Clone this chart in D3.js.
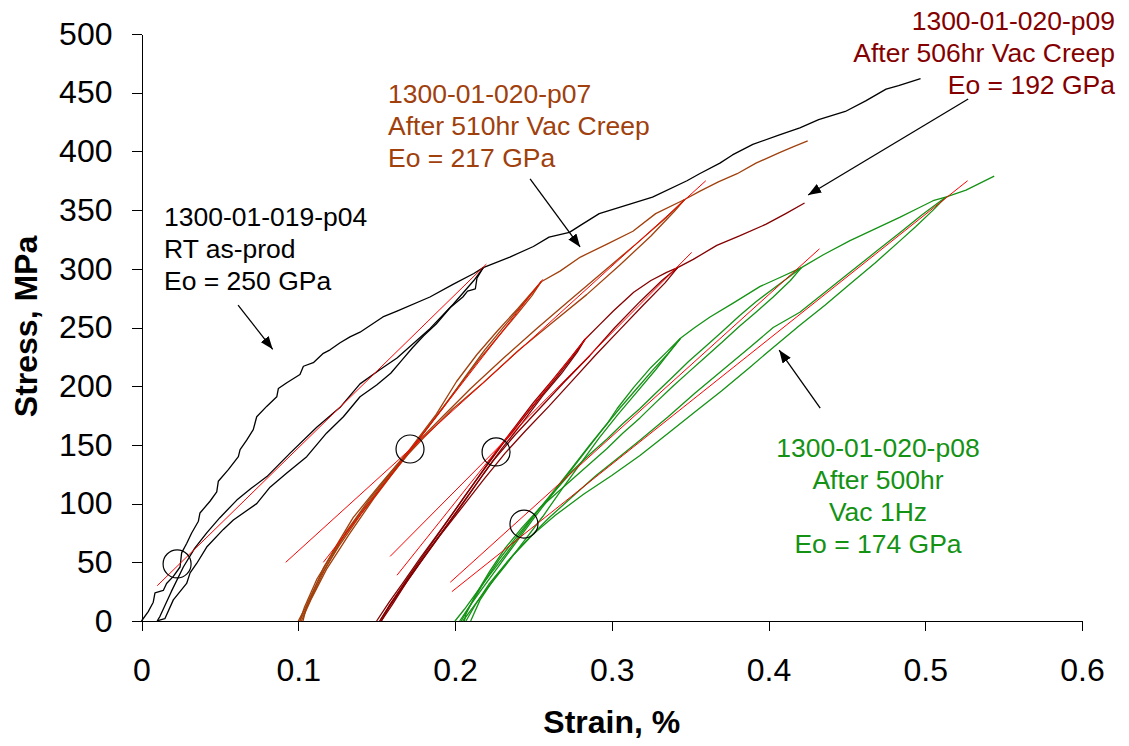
<!DOCTYPE html>
<meta charset="utf-8">
<style>
  body { margin: 0; background: #fff; }
  text { font-family: Arial, "Liberation Sans", sans-serif; }
  .axis path, .axis line { stroke: #000; shape-rendering: crispEdges; }
  .axis text { font-size: 32px; fill: #000; }
  .title { font-size: 32px; font-weight: bold; }
  .note { font-size: 26.5px; }
</style>
<svg width="1129" height="746"></svg>
<script src="https://d3js.org/d3.v7.min.js"></script>
<script>

// axis ticks
var xTicks = [0, 0.1, 0.2, 0.3, 0.4, 0.5, 0.6];
var xTickLabels = ["0", "0.1", "0.2", "0.3", "0.4", "0.5", "0.6"];
var yTicks = [0, 50, 100, 150, 200, 250, 300, 350, 400, 450, 500];

// 1300-01-019-p04, RT as-prod  [strain %, stress MPa]
var p04Load = [[0,0],[0.0043,8],[0.0075,16],[0.0086,24],[0.0139,26],[0.016,32],[0.0203,38],[0.0246,46],
  [0.0256,58],[0.0288,66],[0.032,75],[0.0363,85],[0.0373,92],[0.0437,102],[0.048,110],[0.049,119],[0.0554,129],
  [0.0618,140],[0.0629,146],[0.0671,154],[0.0713,163],[0.0735,174],[0.080,183],[0.0863,191],[0.0873,198],
  [0.0927,203],[0.1011,210],[0.1033,217],[0.1096,220],[0.116,228],[0.1203,231],[0.1267,237],[0.133,242],
  [0.1394,246],[0.154,259],[0.163,264],[0.184,276],[0.199,287],[0.212,296],[0.218,301]];
var p04Unload = [[0.218,301],[0.214,292],[0.213,283],[0.208,281],[0.205,276],[0.197,267],[0.188,253],[0.180,243],
  [0.173,233],[0.166,222],[0.159,211],[0.150,201],[0.1394,191],[0.1288,174],[0.118,160],[0.1054,140],[0.0927,126],
  [0.082,114],[0.0735,100],[0.0586,86],[0.0522,78],[0.0416,63],[0.0352,49],[0.031,41],[0.0288,32],[0.0203,18],
  [0.0149,2],[0.012,1],[0.010,0]];
var p04Reload = [[0.010,0],[0.0118,4],[0.019,25],[0.0267,46],[0.034,62],[0.0416,75],[0.050,88],[0.0608,103],
  [0.070,113],[0.080,123],[0.0948,143],[0.1118,165],[0.1267,182],[0.1394,202],[0.152,214],[0.163,224],
  [0.184,249],[0.199,270],[0.212,290],[0.218,301]];
var p04Load2 = [[0.218,301],[0.235,310],[0.250,319],[0.260,327],[0.273,331],[0.280,337],[0.292,347],[0.309,354],
  [0.326,361],[0.348,375],[0.356,381],[0.369,390],[0.377,397],[0.390,406],[0.407,414],[0.420,420],[0.432,427],
  [0.449,434],[0.462,443],[0.475,453],[0.483,456],[0.497,462]];
var p04Fit = [[0.010,30],[0.220,304]];

// 1300-01-020-p07, after 510hr vac creep
var p07Load1 = [[0.100,0],[0.108,20],[0.116,45],[0.126,68],[0.135,88],[0.152,116],[0.171,146],[0.188,176],
  [0.201,204],[0.214,227],[0.227,247],[0.240,266],[0.255,289]];
var p07Unload1 = [[0.255,289],[0.249,277],[0.240,262],[0.228,243],[0.215,222],[0.203,201],[0.190,178],
  [0.174,150],[0.156,120],[0.139,91],[0.124,62],[0.112,36],[0.104,12],[0.101,0]];
var p07Reload1 = [[0.101,0],[0.107,16],[0.117,44],[0.130,75],[0.145,103],[0.160,128],[0.176,153],[0.192,181],
  [0.206,207],[0.219,231],[0.232,252],[0.244,271],[0.255,289]];
var p07Load2 = [[0.255,289],[0.267,298],[0.280,310],[0.297,321],[0.3135,332],[0.328,347],[0.3465,359]];
var p07Unload2 = [[0.3465,359],[0.340,349],[0.325,328],[0.305,303],[0.284,278],[0.262,254],[0.240,230],
  [0.218,203],[0.198,180],[0.180,156],[0.170,142],[0.155,117],[0.140,91],[0.126,64],[0.114,38],[0.106,16],[0.103,0]];
var p07Reload2 = [[0.102,0],[0.108,18],[0.118,44],[0.132,73],[0.148,104],[0.165,134],[0.178,155],[0.192,174],
  [0.210,198],[0.231,224],[0.252,249],[0.273,273],[0.295,298],[0.318,324],[0.335,344],[0.3465,359]];
var p07Load3 = [[0.3465,359],[0.356,366],[0.368,374],[0.380,381],[0.392,390],[0.407,399],[0.416,404],[0.425,409]];
var p07Fit1 = [[0.116,50],[0.256,291]];
var p07Fit2 = [[0.092,50],[0.360,375]];

// 1300-01-020-p09, after 506hr vac creep
var p09Load1 = [[0.150,0],[0.158,16],[0.167,33],[0.178,54],[0.190,76],[0.202,98],[0.214,121],[0.226,144],
  [0.238,165],[0.250,186],[0.262,205],[0.273,223],[0.283,240]];
var p09Unload1 = [[0.283,240],[0.278,229],[0.268,211],[0.256,192],[0.243,169],[0.230,147],[0.218,125],
  [0.205,100],[0.192,76],[0.180,54],[0.168,32],[0.158,13],[0.152,0]];
var p09Reload1 = [[0.152,0],[0.160,17],[0.170,37],[0.182,60],[0.194,83],[0.206,106],[0.218,128],[0.230,150],
  [0.242,170],[0.254,190],[0.265,208],[0.275,225],[0.283,240]];
var p09Load2 = [[0.283,240],[0.292,252],[0.301,264],[0.314,280],[0.325,290],[0.335,297],[0.342,301]];
var p09Unload2 = [[0.342,301],[0.334,288],[0.320,269],[0.305,248],[0.290,227],[0.275,205],[0.260,183],
  [0.245,162],[0.232,143],[0.218,120],[0.204,96],[0.190,72],[0.178,50],[0.167,29],[0.158,12],[0.153,0]];
var p09Reload2 = [[0.153,0],[0.160,14],[0.170,35],[0.182,58],[0.196,84],[0.210,110],[0.224,136],[0.238,158],
  [0.254,181],[0.270,204],[0.286,226],[0.302,250],[0.318,272],[0.332,290],[0.342,301]];
var p09Load3 = [[0.342,301],[0.352,308],[0.367,320],[0.3815,328],[0.3985,338],[0.411,347],[0.423,356]];
var p09Fit1 = [[0.163,39],[0.285,243]];
var p09Fit2 = [[0.1586,55],[0.351,314]];

// 1300-01-020-p08, after 500hr vac 1Hz
var p08Load1 = [[0.200,0],[0.206,10],[0.212,21],[0.222,39],[0.233,58],[0.244,78],[0.254,96],[0.265,114],
  [0.275,131],[0.286,150],[0.297,168],[0.3035,181],[0.314,199],[0.325,216],[0.335,229],[0.344,241]];
var p08Unload1 = [[0.344,241],[0.338,231],[0.328,214],[0.316,195],[0.304,176],[0.292,156],[0.280,134],
  [0.268,112],[0.256,89],[0.244,68],[0.232,47],[0.220,27],[0.210,9],[0.205,0]];
var p08Reload1 = [[0.203,0],[0.209,12],[0.217,27],[0.228,47],[0.239,67],[0.250,87],[0.261,106],[0.272,125],
  [0.283,144],[0.294,163],[0.305,181],[0.316,198],[0.327,215],[0.336,228],[0.344,241]];
var p08Load2 = [[0.344,241],[0.353,250],[0.3627,259],[0.3777,271],[0.3947,285],[0.408,293],[0.421,301]];
var p08Unload2 = [[0.421,301],[0.414,290],[0.403,276],[0.392,263],[0.3815,251],[0.370,237],[0.360,225],
  [0.349,212],[0.339,200],[0.328,186],[0.318,173],[0.307,160],[0.297,147],[0.286,134],[0.275,121],[0.264,108],
  [0.254,96],[0.243,80],[0.232,62],[0.222,42],[0.213,22],[0.207,6],[0.206,0]];
var p08Reload2 = [[0.204,0],[0.210,14],[0.218,32],[0.228,52],[0.240,73],[0.252,93],[0.264,111],[0.275,128],
  [0.286,142],[0.297,155],[0.307,168],[0.318,181],[0.328,194],[0.339,208],[0.349,221],[0.360,234],[0.370,246],
  [0.3815,260],[0.392,272],[0.403,283],[0.412,292],[0.421,301]];
var p08Load3 = [[0.421,301],[0.435,312],[0.452,324],[0.468,334],[0.484,344],[0.496,352],[0.505,358],[0.513,361]];
var p08Unload3 = [[0.513,361],[0.505,350],[0.494,336],[0.484,324],[0.468,305],[0.452,287],[0.436,269],
  [0.420,252],[0.403,233],[0.388,216],[0.370,196],[0.353,178],[0.336,160],[0.318,141],[0.300,124],[0.282,108],
  [0.264,90],[0.250,74],[0.237,56],[0.226,38],[0.216,18],[0.210,0]];
var p08Reload3 = [[0.207,0],[0.213,14],[0.222,32],[0.233,50],[0.246,69],[0.260,88],[0.275,106],[0.290,124],
  [0.305,140],[0.318,154],[0.336,174],[0.353,194],[0.370,213],[0.388,233],[0.403,250],[0.420,263],[0.436,280],
  [0.452,297],[0.468,314],[0.484,331],[0.498,346],[0.513,361]];
var p08Load4 = [[0.513,361],[0.526,367],[0.535,373],[0.544,379]];
var p08FitA = [[0.197,33],[0.4325,317]];
var p08FitB = [[0.198,25],[0.527,375]];

// labels
var p04Label = ["1300-01-019-p04", "RT as-prod", "Eo = 250 GPa"];
var p07Label = ["1300-01-020-p07", "After 510hr Vac Creep", "Eo = 217 GPa"];
var p09Label = ["1300-01-020-p09", "After 506hr Vac Creep", "Eo = 192 GPa"];
var p08Label = ["1300-01-020-p08", "After 500hr", "Vac 1Hz", "Eo = 174 GPa"];

// circled points where Eo was taken, and arrows [from, to]
var circlePts = [[0.0227,48.6],[0.1713,146.5],[0.2262,144],[0.244,82.6]];
var arrows = [
  [[0.0616,269],[0.0837,231.4]],
  [[0.2479,376.5],[0.2798,318.6]],
  [[0.5274,444.6],[0.4253,362.9]],
  [[0.433,181.4],[0.4068,230.8]]
];

var black = "#000000", brown = "#A0400C", darkred = "#840000", green = "#149214";

var specimens = [
  {color: black, traces: [p04Load, p04Unload, p04Reload, p04Load2], fits: [p04Fit]},
  {color: brown, traces: [p07Load1, p07Unload1, p07Reload1, p07Load2, p07Unload2, p07Reload2, p07Load3], fits: [p07Fit1, p07Fit2]},
  {color: darkred, traces: [p09Load1, p09Unload1, p09Reload1, p09Load2, p09Unload2, p09Reload2, p09Load3], fits: [p09Fit1, p09Fit2]},
  {color: green, traces: [p08Load1, p08Unload1, p08Reload1, p08Load2, p08Unload2, p08Reload2, p08Load3, p08Unload3, p08Reload3, p08Load4], fits: [p08FitA, p08FitB]}
];

var svg = d3.select("svg");

var x = d3.scaleLinear().domain([0, 0.6]).range([141.5, 1082]);
var y = d3.scaleLinear().domain([0, 500]).range([621, 34]);

var line = d3.line()
    .x(function(d) { return x(d[0]); })
    .y(function(d) { return y(d[1]); });

svg.append("defs").append("marker")
    .attr("id", "head")
    .attr("markerUnits", "userSpaceOnUse")
    .attr("markerWidth", 14)
    .attr("markerHeight", 10)
    .attr("refX", 13)
    .attr("refY", 5)
    .attr("orient", "auto")
  .append("path")
    .attr("d", "M0,0L13,5L0,10Z")
    .attr("fill", "#000");

// axes
svg.append("g")
    .attr("class", "axis")
    .attr("transform", "translate(" + x(0) + ",0)")
    .call(d3.axisLeft(y).tickValues(yTicks).tickSize(10).tickSizeOuter(0).tickPadding(19));

svg.append("g")
    .attr("class", "axis")
    .attr("transform", "translate(0," + y(0) + ")")
    .call(d3.axisBottom(x).tickValues(xTicks).tickSize(10).tickSizeOuter(0).tickPadding(27)
      .tickFormat(function(d, i) { return xTickLabels[i]; }));

svg.append("text")
    .attr("class", "title")
    .attr("text-anchor", "middle")
    .attr("transform", "translate(37,326.5) rotate(-90)")
    .text("Stress, MPa");

svg.append("text")
    .attr("class", "title")
    .attr("text-anchor", "middle")
    .attr("x", (x(0) + x(0.6)) / 2)
    .attr("y", 733)
    .text("Strain, %");

// curves
specimens.forEach(function(s) {
  svg.append("g").selectAll("path")
      .data(s.traces)
    .enter().append("path")
      .attr("d", line)
      .attr("fill", "none")
      .attr("stroke", s.color)
      .attr("stroke-width", 1.3)
      .attr("stroke-linejoin", "round");
});

specimens.forEach(function(s) {
  svg.append("g").selectAll("path")
      .data(s.fits)
    .enter().append("path")
      .attr("d", line)
      .attr("fill", "none")
      .attr("stroke", "#ff0000")
      .attr("stroke-width", 1);
});

svg.append("g").selectAll("circle")
    .data(circlePts)
  .enter().append("circle")
    .attr("cx", function(d) { return x(d[0]); })
    .attr("cy", function(d) { return y(d[1]); })
    .attr("r", 14)
    .attr("fill", "none")
    .attr("stroke", "#000")
    .attr("stroke-width", 1.2);

svg.append("g").selectAll("line")
    .data(arrows)
  .enter().append("line")
    .attr("x1", function(d) { return x(d[0][0]); })
    .attr("y1", function(d) { return y(d[0][1]); })
    .attr("x2", function(d) { return x(d[1][0]); })
    .attr("y2", function(d) { return y(d[1][1]); })
    .attr("stroke", "#000")
    .attr("stroke-width", 1.3)
    .attr("marker-end", "url(#head)");

// notes
function note(lines, color, px, baseline, anchor) {
  svg.append("g").selectAll("text")
      .data(lines)
    .enter().append("text")
      .attr("class", "note")
      .attr("x", px)
      .attr("y", function(d, i) { return baseline + i * 32; })
      .attr("text-anchor", anchor)
      .attr("fill", color)
      .text(function(d) { return d; });
}
note(p04Label, black, 164, 226, "start");
note(p07Label, brown, 388, 103, "start");
note(p09Label, darkred, 1115, 30, "end");
note(p08Label, green, 878, 457, "middle");

</script>
